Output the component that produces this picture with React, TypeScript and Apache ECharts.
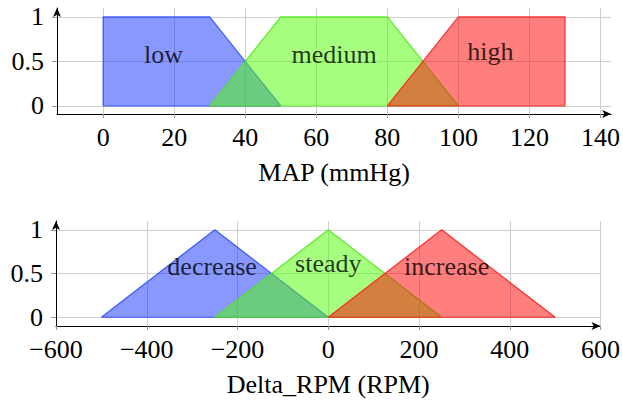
import React, { useEffect, useRef } from "react";
import * as echarts from "echarts";

// ---- data ----
const mapTicks = [0, 20, 40, 60, 80, 100, 120, 140];
const rpmTicks = [-600, -400, -200, 0, 200, 400, 600];
const yTicks = [0, 0.5, 1];

const lowMAP = [[0, 0], [0, 1], [30, 1], [50, 0], [0, 0]];
const mediumMAP = [[30, 0], [50, 1], [80, 1], [100, 0], [30, 0]];
const highMAP = [[80, 0], [100, 1], [130, 1], [130, 0], [80, 0]];

const decreaseRPM = [[-500, 0], [-250, 1], [0, 0], [-500, 0]];
const steadyRPM = [[-250, 0], [0, 1], [250, 0], [-250, 0]];
const increaseRPM = [[0, 0], [250, 1], [500, 0], [0, 0]];

const mapNames = ["low", "medium", "high"];
const mapLabelX = [17, 65, 109];
const mapLabelY = [0.58, 0.58, 0.61];
const rpmNames = ["decrease", "steady", "increase"];
const rpmLabelX = [-256, 0, 261];
const rpmLabelY = [0.58, 0.62, 0.58];

const FONT = "'Liberation Serif', 'DejaVu Serif', serif";
const FS = 26;

const fills = ["rgba(20,50,255,0.5)", "rgba(77,255,0,0.5)", "rgba(255,0,0,0.5)"];
const strokes = ["rgba(40,70,255,0.85)", "rgba(80,230,30,0.9)", "rgba(255,30,30,0.9)"];

function xAxisCfg(gridIndex: number, min: number, max: number, ticks: number[], name: string, minus: boolean) {
  return {
    gridIndex,
    type: "value",
    min,
    max,
    name,
    nameLocation: "middle",
    nameGap: 45,
    nameTextStyle: { fontFamily: FONT, fontSize: FS, color: "#000" },
    axisLine: {
      show: true,
      onZero: false,
      symbol: ["none", "arrow"],
      symbolSize: [6, 9],
      lineStyle: { color: "#000", width: 1 },
    },
    axisTick: { show: true, customValues: ticks, length: 4, lineStyle: { color: "#999" } },
    axisLabel: {
      customValues: ticks,
      margin: 10,
      fontFamily: FONT,
      fontSize: FS,
      color: "#000",
      formatter: (v: number) => (minus ? String(v).replace("-", "\u2212") : String(v)),
    },
    splitLine: { show: true, lineStyle: { color: "#cfcfcf", width: 1 } },
  };
}

function yAxisCfg(gridIndex: number, min: number, max: number) {
  return {
    gridIndex,
    type: "value",
    min,
    max,
    axisLine: {
      show: true,
      onZero: false,
      symbol: ["none", "arrow"],
      symbolSize: [6, 9],
      lineStyle: { color: "#000", width: 1 },
    },
    axisTick: { show: true, customValues: yTicks, length: 5, lineStyle: { color: "#999" } },
    axisLabel: {
      customValues: yTicks,
      margin: 13,
      fontFamily: FONT,
      fontSize: FS,
      color: "#000",
    },
    splitLine: { show: true, lineStyle: { color: "#cfcfcf", width: 1 } },
  };
}

function areaSeries(data: number[][], i: number, axisIndex: number) {
  return {
    type: "line",
    xAxisIndex: axisIndex,
    yAxisIndex: axisIndex,
    data,
    showSymbol: false,
    symbol: "none",
    lineStyle: { color: strokes[i], width: 1.2 },
    areaStyle: { color: fills[i], opacity: 1 },
    z: 2 + i,
    silent: true,
  };
}

function labelSeries(names: string[], xs: number[], ys: number[], axisIndex: number) {
  return {
    type: "scatter",
    xAxisIndex: axisIndex,
    yAxisIndex: axisIndex,
    symbolSize: 0,
    z: 10,
    silent: true,
    data: names.map((n, k) => ({ name: n, value: [xs[k], ys[k]] })),
    label: {
      show: true,
      position: "inside",
      formatter: (p: any) => p.name,
      fontFamily: FONT,
      fontSize: FS,
      color: "#000",
    },
  };
}

export default function App() {
  const ref = useRef<HTMLDivElement>(null);
  useEffect(() => {
    if (!ref.current) return;
    const chart = echarts.init(ref.current, null, { renderer: "svg" });
    chart.setOption({
      animation: false,
      backgroundColor: "#fff",
      grid: [
        { left: 57, top: 8, width: 555, height: 106 },
        { left: 56, top: 221, width: 546, height: 105 },
      ],
      xAxis: [
        xAxisCfg(0, -13, 143, mapTicks, "MAP (mmHg)", false),
        xAxisCfg(1, -600, 600, rpmTicks, "Delta_RPM (RPM)", true),
      ],
      yAxis: [yAxisCfg(0, -0.09, 1.1), yAxisCfg(1, -0.1, 1.1)],
      series: [
        areaSeries(lowMAP, 0, 0),
        areaSeries(mediumMAP, 1, 0),
        areaSeries(highMAP, 2, 0),
        areaSeries(decreaseRPM, 0, 1),
        areaSeries(steadyRPM, 1, 1),
        areaSeries(increaseRPM, 2, 1),
        labelSeries(mapNames, mapLabelX, mapLabelY, 0),
        labelSeries(rpmNames, rpmLabelX, rpmLabelY, 1),
      ],
    });
    return () => chart.dispose();
  }, []);
  return (
    <div
      ref={ref}
      style={{ position: "fixed", left: 0, top: 0, width: 623, height: 401 }}
    />
  );
}
